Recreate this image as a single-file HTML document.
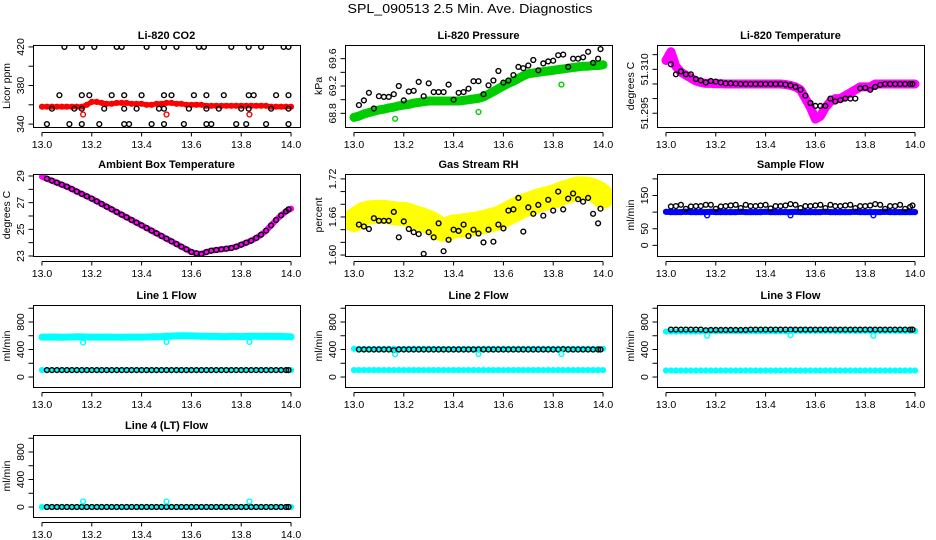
<!DOCTYPE html>
<html><head><meta charset="utf-8"><style>
html,body{margin:0;padding:0;background:#fff;}
svg{display:block;font-family:"Liberation Sans",Arial,sans-serif;}
</style></head><body>
<svg id="chart" width="936" height="540" viewBox="0 0 936 540" xmlns="http://www.w3.org/2000/svg">
<rect x="0" y="0" width="936" height="540" fill="#fff"/>
<text x="470" y="13" font-size="13" text-anchor="middle" textLength="245" lengthAdjust="spacingAndGlyphs">SPL_090513  2.5 Min. Ave. Diagnostics</text>
</svg>
<script>
// shared time axes
const tC = [13.00,13.02,13.04,13.06,13.08,13.10,13.12,13.14,13.16,13.18,13.20,13.22,13.24,13.26,13.28,13.30,13.32,13.34,13.36,13.38,13.40,13.42,13.44,13.46,13.48,13.50,13.52,13.54,13.56,13.58,13.60,13.62,13.64,13.66,13.68,13.70,13.72,13.74,13.76,13.78,13.80,13.82,13.84,13.86,13.88,13.90,13.92,13.94,13.96,13.98,14.00];
const tB = [13.02,13.04,13.06,13.08,13.10,13.12,13.14,13.16,13.18,13.20,13.22,13.24,13.26,13.28,13.30,13.32,13.34,13.36,13.38,13.40,13.42,13.44,13.46,13.48,13.50,13.52,13.54,13.56,13.58,13.60,13.62,13.64,13.66,13.68,13.70,13.72,13.74,13.76,13.78,13.80,13.82,13.84,13.86,13.88,13.90,13.92,13.94,13.96,13.98,13.99];
const tOut = [13.165,13.50,13.833];
const xTicks = [13.0,13.2,13.4,13.6,13.8,14.0];
const xTickLabels = ["13.0","13.2","13.4","13.6","13.8","14.0"];

// CO2
const co2Red = [358,358,358,358,358,358,358,358,358,360,363,363,362,361,361,362,362,362,361,361,361,360,360,361,361,362,362,361,361,360,360,360,360,359,359,359,359,359,359,359,359,359,359,359,359,359,358,358,358,358,358];
const co2BlackX = [13.09,13.16,13.21,13.30,13.32,13.42,13.49,13.54,13.63,13.65,13.76,13.83,13.88,13.97,13.99,13.07,13.16,13.19,13.28,13.33,13.40,13.49,13.52,13.61,13.66,13.73,13.83,13.85,13.94,13.99,13.04,13.13,13.16,13.25,13.33,13.38,13.47,13.49,13.59,13.66,13.71,13.80,13.83,13.92,13.99,13.02,13.11,13.16,13.23,13.33,13.35,13.44,13.49,13.57,13.66,13.68,13.78,13.82,13.90,13.99];
const co2BlackY = [420,420,420,420,420,420,420,420,420,420,420,420,420,420,420,370,370,370,370,370,370,370,370,370,370,370,370,370,370,370,356,356,356,356,356,356,356,356,356,356,356,356,356,356,356,340,340,340,340,340,340,340,340,340,340,340,340,340,340,340];
const co2Out = [350,350,350];
const co2Ticks = [340,360,380,400,420];
const co2Labels = ["340","","380","","420"];

// Pressure
const presGreen = [68.74,68.76,68.79,68.81,68.83,68.85,68.86,68.88,68.89,68.91,68.92,68.93,68.95,68.96,68.97,68.98,68.98,68.98,68.98,68.98,68.98,68.98,68.99,69.00,69.01,69.02,69.04,69.08,69.12,69.16,69.20,69.24,69.27,69.31,69.35,69.38,69.39,69.40,69.41,69.42,69.43,69.44,69.45,69.46,69.47,69.48,69.49,69.49,69.50,69.50,69.51];
const presBlack = [68.92,68.99,69.10,68.87,69.05,69.04,69.04,69.08,69.20,68.99,69.12,69.13,69.26,69.05,69.24,69.11,69.11,69.11,69.22,69.00,69.10,69.11,69.16,69.27,69.27,69.08,69.21,69.28,69.42,69.25,69.28,69.36,69.48,69.46,69.50,69.58,69.43,69.53,69.56,69.57,69.65,69.66,69.48,69.60,69.60,69.62,69.70,69.54,69.60,69.74];
const presOut = [68.72,68.82,69.22];
const presTicks = [68.8,69.0,69.2,69.4,69.6];
const presLabels = ["68.8","","69.2","","69.6"];

// Li-820 temperature
const tempMag = [51.313,51.316,51.311,51.309,51.308,51.307,51.306,51.3055,51.3052,51.3052,51.3051,51.3051,51.305,51.305,51.305,51.305,51.305,51.305,51.305,51.305,51.305,51.305,51.305,51.305,51.3048,51.3045,51.304,51.303,51.300,51.297,51.293,51.294,51.297,51.299,51.300,51.300,51.301,51.302,51.303,51.304,51.304,51.304,51.305,51.305,51.305,51.305,51.305,51.305,51.305,51.305,51.305];
const tempBlack = [51.3117,51.3083,51.3093,51.3083,51.3083,51.3067,51.3062,51.3055,51.306,51.3058,51.3055,51.3052,51.3052,51.3051,51.305,51.305,51.305,51.305,51.305,51.305,51.305,51.305,51.305,51.3048,51.3045,51.304,51.303,51.301,51.2985,51.2975,51.2975,51.2975,51.300,51.299,51.2995,51.300,51.300,51.300,51.3035,51.3037,51.303,51.304,51.3047,51.305,51.305,51.305,51.305,51.305,51.305,51.305];
const tempTicks = [51.295,51.300,51.305,51.310,51.315];
const tempLabels = ["51.295","","","51.310",""];

// Ambient box temperature
const ambMag = [28.95,28.8,28.65,28.5,28.35,28.2,28.02,27.84,27.66,27.48,27.3,27.1,26.9,26.7,26.5,26.3,26.1,25.9,25.7,25.5,25.3,25.1,24.9,24.7,24.5,24.3,24.1,23.9,23.7,23.5,23.3,23.2,23.15,23.3,23.4,23.45,23.5,23.55,23.6,23.7,23.85,24.0,24.15,24.35,24.6,24.9,25.3,25.7,26.05,26.35,26.55];
const ambBlack = [28.8,28.65,28.5,28.35,28.2,28.02,27.84,27.66,27.48,27.3,27.1,26.9,26.7,26.5,26.3,26.1,25.9,25.7,25.5,25.3,25.1,24.9,24.7,24.5,24.3,24.1,23.9,23.7,23.5,23.3,23.2,23.15,23.3,23.4,23.45,23.5,23.55,23.6,23.7,23.85,24.0,24.15,24.35,24.6,24.9,25.3,25.7,26.05,26.35,26.5];
const ambTicks = [23,24,25,26,27,28,29];
const ambLabels = ["23","","25","","27","","29"];

// Gas stream RH
const rhYellow = [1.655,1.66,1.665,1.667,1.668,1.668,1.668,1.667,1.666,1.665,1.665,1.663,1.66,1.658,1.655,1.652,1.648,1.642,1.64,1.642,1.645,1.646,1.647,1.648,1.649,1.650,1.652,1.654,1.656,1.658,1.662,1.666,1.670,1.674,1.678,1.680,1.683,1.686,1.688,1.690,1.692,1.695,1.698,1.700,1.703,1.705,1.705,1.704,1.702,1.698,1.692];
const rhBlack = [1.648,1.645,1.641,1.658,1.654,1.654,1.654,1.668,1.628,1.653,1.641,1.636,1.633,1.602,1.636,1.628,1.650,1.606,1.624,1.640,1.638,1.648,1.630,1.640,1.634,1.620,1.640,1.621,1.648,1.642,1.670,1.672,1.690,1.637,1.675,1.665,1.679,1.662,1.687,1.670,1.700,1.672,1.689,1.697,1.688,1.684,1.690,1.665,1.650,1.673];
const rhTicks = [1.60,1.62,1.64,1.66,1.68,1.70,1.72];
const rhLabels = ["1.60","","","1.66","","","1.72"];

// Sample flow
const sfBlue = [101,100,100,100,101,100,100,100,100,101,100,100,100,100,100,101,100,100,100,100,101,100,100,100,100,100,101,100,100,100,100,100,101,100,100,100,100,100,101,100,100,100,100,100,101,100,100,100,100,100,100];
const sfBlack = [117,118,122,110,117,118,118,122,122,110,117,118,120,122,112,122,118,118,120,122,111,118,118,120,124,122,112,118,118,120,122,112,122,118,118,120,122,112,118,118,120,124,122,110,118,118,122,110,116,120];
const sfOut = [90,90,90];
const sfTicks = [0,50,100,150,200];
const sfLabels = ["0","50","","150",""];

// Line flows
const flowTicks = [0,200,400,600,800,1000];
const flowLabels = ["0","","400","","800",""];
const l1CyanHi = [580,580,582,580,578,580,582,585,584,582,580,580,580,582,580,580,578,580,580,582,580,582,584,586,588,592,595,598,600,600,598,596,594,592,590,590,588,588,590,590,588,590,592,592,590,592,590,592,590,588,585];
const l1CyanLo = [100,100,100,100,100,100,100,100,100,100,100,100,100,100,100,100,100,100,100,100,100,100,100,100,100,100,100,100,100,100,100,100,100,100,100,100,100,100,100,100,100,100,100,100,100,100,100,100,100,100,100];
const l1Black = [100,100,100,100,100,100,100,100,100,100,100,100,100,100,100,100,100,100,100,100,100,100,100,100,100,100,100,100,100,100,100,100,100,100,100,100,100,100,100,100,100,100,100,100,100,100,100,100,100,100];
const l1Out = [500,510,510];
const l2CyanHi = [410,410,410,410,410,410,410,412,412,410,410,412,412,412,412,412,410,410,410,410,410,410,410,410,410,412,412,412,412,412,412,412,412,412,412,412,412,412,412,412,412,412,412,412,412,412,412,412,412,412,410];
const l2CyanLo = [100,100,100,100,100,100,100,100,100,100,100,100,100,100,100,100,100,100,100,100,100,100,100,100,100,100,100,100,100,100,100,100,100,100,100,100,100,100,100,100,100,100,100,100,100,100,100,100,100,100,100];
const l2Black = [400,400,400,400,400,400,400,390,400,400,400,400,400,400,400,400,400,400,400,400,400,400,400,400,400,400,400,400,400,400,400,400,400,400,400,400,400,400,400,400,400,405,400,400,400,400,400,400,400,400];
const l2Out = [330,335,335];
const l3CyanHi = [660,660,660,660,660,660,660,660,665,665,665,665,665,665,665,665,665,665,665,665,665,665,665,665,665,670,670,670,670,670,670,670,670,670,670,670,670,670,670,670,670,670,670,670,670,670,670,670,670,670,670];
const l3CyanLo = [95,95,95,95,95,95,95,95,95,95,95,95,95,95,95,95,95,95,95,95,95,95,95,95,95,95,95,95,95,95,95,95,95,95,95,95,95,95,95,95,95,95,95,95,95,95,95,95,95,95,95];
const l3Black = [690,690,690,690,690,690,690,680,685,685,685,685,685,685,685,685,690,690,690,690,690,690,690,690,690,690,690,690,690,690,690,690,690,690,690,690,690,690,690,690,690,690,690,690,690,690,690,690,690,690];
const l3Out = [600,610,600];
const l4Cyan = [0,0,0,0,0,0,0,0,0,0,0,0,0,0,0,0,0,0,0,0,0,0,0,0,0,0,0,0,0,0,0,0,0,0,0,0,0,0,0,0,0,0,0,0,0,0,0,0,0,0,0];
const l4Black = [0,0,0,0,0,0,0,0,0,0,0,0,0,0,0,0,0,0,0,0,0,0,0,0,0,0,0,0,0,0,0,0,0,0,0,0,0,0,0,0,0,0,0,0,0,0,0,0,0,0];
const l4Out = [80,80,80];

const NS = "http://www.w3.org/2000/svg";
const svg = document.getElementById('chart');
const COLS = [33, 345, 657];
const ROWS = [45, 174, 305, 435];
const BW = 267, BH = 82;
const XMIN = 12.964, XMAX = 14.036;

function mk(tag, attrs, parent) {
  const e = document.createElementNS(NS, tag);
  for (const k in attrs) e.setAttribute(k, attrs[k]);
  (parent || svg).appendChild(e);
  return e;
}

function panel(col, row, title, ytitle, ymin, ymax, yTicks, yLabels, series, slug) {
  const L = COLS[col], T = ROWS[row];
  const g = mk('g', {});
  
  
  const xs = v => L + (v - XMIN) / (XMAX - XMIN) * BW;
  const ys = v => T + BH - (v - ymin) / (ymax - ymin) * BH;
  const clip = mk('clipPath', {id: 'clip-' + slug}, g);
  mk('rect', {x: L, y: T, width: BW, height: BH}, clip);
  const plot = mk('g', {'clip-path': 'url(#clip-' + slug + ')'}, g);
  
  
  series.forEach(s => {
    const n = Math.min(s.x.length, s.y.length);
    const sg = mk('g', {}, plot);
    
    
    if (s.band) {
      let pts = [];
      for (let i = 0; i < n; i++) pts.push(xs(s.x[i]).toFixed(1) + ',' + ys(s.y[i]).toFixed(1));
      const pl = mk('polyline', {points: pts.join(' '), fill: 'none', stroke: s.color, 'stroke-width': s.band, 'stroke-linejoin': 'round', 'stroke-linecap': 'round'}, sg);
      
      
    }
    for (let i = 0; i < n; i++) {
      const c = mk('circle', {cx: xs(s.x[i]).toFixed(1), cy: ys(s.y[i]).toFixed(1), r: 2.4, fill: 'none', stroke: s.color, 'stroke-width': 1.4}, sg);
      
      
    }
  });
  const box = mk('rect', {x: L + 0.5, y: T + 0.5, width: BW, height: BH, fill: 'none', stroke: '#000', 'stroke-width': 1}, g);
  
  
  // x axis
  const xa = mk('g', {}, g);
  
  
  const yb = T + BH + 0.5;
  mk('line', {x1: xs(xTicks[0]), x2: xs(xTicks[xTicks.length - 1]), y1: yb + 5, y2: yb + 5, stroke: '#000'}, xa);
  xTicks.forEach((v, i) => {
    const x = xs(v);
    mk('line', {x1: x, x2: x, y1: yb + 5, y2: yb + 9, stroke: '#000'}, xa);
    const t = mk('text', {x: x, y: T + BH + 21, 'font-size': 10.5, 'text-anchor': 'middle'}, xa);
    
    
    t.textContent = xTickLabels[i];
  });
  // y axis
  const ya = mk('g', {}, g);
  
  
  const yy = yTicks.map(ys);
  mk('line', {x1: L + 0.5, x2: L + 0.5, y1: Math.min(...yy), y2: Math.max(...yy), stroke: '#000'}, ya);
  yTicks.forEach((v, i) => {
    const y = ys(v);
    mk('line', {x1: L - 4.5, x2: L + 0.5, y1: y, y2: y, stroke: '#000'}, ya);
    if (yLabels[i]) {
      const t = mk('text', {x: 0, y: 0, 'font-size': 10.5, 'text-anchor': 'middle', transform: 'translate(' + (L - 9) + ',' + y + ') rotate(-90)'}, ya);
      
      
      t.textContent = yLabels[i];
    }
  });
  const yt = mk('text', {x: 0, y: 0, 'font-size': 10.5, 'text-anchor': 'middle', transform: 'translate(' + (L - 23) + ',' + (T + BH / 2) + ') rotate(-90)'}, g);
  
  
  yt.textContent = ytitle;
  const tt = mk('text', {x: L + BW / 2, y: T - 6, 'font-size': 11, 'font-weight': 'bold', 'text-anchor': 'middle'}, g);
  
  
  tt.textContent = title;
}

panel(0, 0, 'Li-820 CO2', 'Licor ppm', 337, 422, co2Ticks, co2Labels, [
  {name: 'licor-red', x: tC, y: co2Red, color: '#ff0000', band: 5},
  {name: 'black', x: co2BlackX, y: co2BlackY, color: '#000'},
  {name: 'red-outliers', x: tOut, y: co2Out, color: '#ff0000'}], 'co2');
panel(1, 0, 'Li-820 Pressure', 'kPa', 68.6, 69.8, presTicks, presLabels, [
  {name: 'green', x: tC, y: presGreen, color: '#00cd00', band: 9},
  {name: 'black', x: tB, y: presBlack, color: '#000'},
  {name: 'green-outliers', x: tOut, y: presOut, color: '#00cd00'}], 'pressure');
panel(2, 0, 'Li-820 Temperature', 'degrees C', 51.2903, 51.3183, tempTicks, tempLabels, [
  {name: 'magenta', x: tC, y: tempMag, color: '#ff00ff', band: 9},
  {name: 'black', x: tB, y: tempBlack, color: '#000'}], 'li820-temp');
panel(0, 1, 'Ambient Box Temperature', 'degrees C', 23.0, 29.15, ambTicks, ambLabels, [
  {name: 'magenta', x: tC, y: ambMag, color: '#ff00ff', band: 6},
  {name: 'black', x: tB, y: ambBlack, color: '#000'}], 'ambient-temp');
panel(1, 1, 'Gas Stream RH', 'percent', 1.5985, 1.7277, rhTicks, rhLabels, [
  {name: 'yellow', x: tC, y: rhYellow, color: '#ffff00', band: 24},
  {name: 'black', x: tB, y: rhBlack, color: '#000'}], 'gas-rh');
panel(2, 1, 'Sample Flow', 'ml/min', -32, 214.7, sfTicks, sfLabels, [
  {name: 'blue', x: tC, y: sfBlue, color: '#0000ff', band: 6},
  {name: 'black', x: tB, y: sfBlack, color: '#000'},
  {name: 'blue-outliers', x: tOut, y: sfOut, color: '#0000ff'}], 'sample-flow');
panel(0, 2, 'Line 1 Flow', 'ml/min', -145, 1047, flowTicks, flowLabels, [
  {name: 'cyan-high', x: tC, y: l1CyanHi, color: '#00ffff', band: 7},
  {name: 'cyan-low', x: tC, y: l1CyanLo, color: '#00ffff', band: 4},
  {name: 'black', x: tB, y: l1Black, color: '#000'},
  {name: 'cyan-outliers', x: tOut, y: l1Out, color: '#00ffff'}], 'line1-flow');
panel(1, 2, 'Line 2 Flow', 'ml/min', -145, 1047, flowTicks, flowLabels, [
  {name: 'cyan-high', x: tC, y: l2CyanHi, color: '#00ffff', band: 4},
  {name: 'cyan-low', x: tC, y: l2CyanLo, color: '#00ffff', band: 5},
  {name: 'black', x: tB, y: l2Black, color: '#000'},
  {name: 'cyan-outliers', x: tOut, y: l2Out, color: '#00ffff'}], 'line2-flow');
panel(2, 2, 'Line 3 Flow', 'ml/min', -145, 1047, flowTicks, flowLabels, [
  {name: 'cyan-high', x: tC, y: l3CyanHi, color: '#00ffff', band: 5},
  {name: 'cyan-low', x: tC, y: l3CyanLo, color: '#00ffff', band: 4},
  {name: 'black', x: tB, y: l3Black, color: '#000'},
  {name: 'cyan-outliers', x: tOut, y: l3Out, color: '#00ffff'}], 'line3-flow');
panel(0, 3, 'Line 4 (LT) Flow', 'ml/min', -145, 1047, flowTicks, flowLabels, [
  {name: 'cyan', x: tC, y: l4Cyan, color: '#00ffff', band: 4},
  {name: 'black', x: tB, y: l4Black, color: '#000'},
  {name: 'cyan-outliers', x: tOut, y: l4Out, color: '#00ffff'}], 'line4-flow');
</script>
</body></html>
